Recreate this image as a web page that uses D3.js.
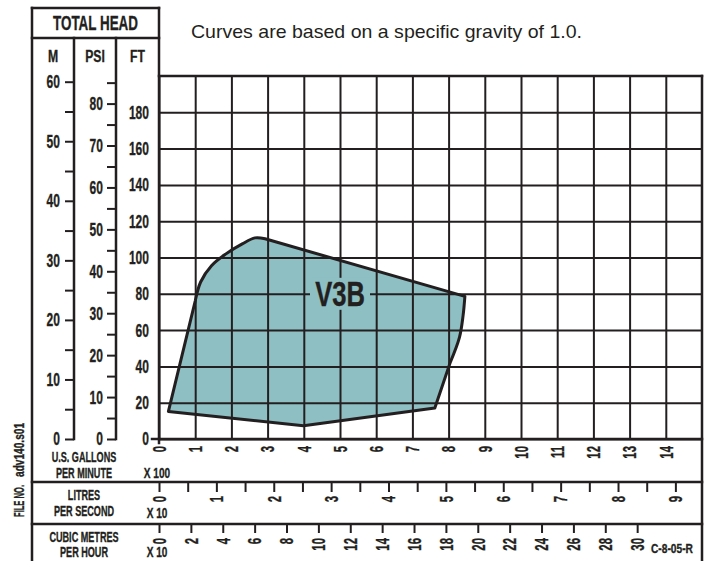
<!DOCTYPE html>
<html><head><meta charset="utf-8">
<script src="https://cdn.jsdelivr.net/npm/d3@7"></script>
<style>body{margin:0;background:#fff} svg{display:block}</style>
</head><body>
<svg id="chart" width="706" height="561"></svg>
<script>
// ---------- data ----------
const gpmTicks = [0,1,2,3,4,5,6,7,8,9,10,11,12,13,14];          // x100 US gpm
const ftTicks  = [0,20,40,60,80,100,120,140,160,180];
const mTicks   = [0,5,10,15,20,25,30,35,40,45,50,55,60];
const psiTicks = [0,5,10,15,20,25,30,35,40,45,50,55,60,65,70,75,80,85];
const lpsTicks = [0,0.5,1,1.5,2,2.5,3,3.5,4,4.5,5,5.5,6,6.5,7,7.5,8,8.5,9]; // x10 L/s
const cmhTicks = [0,2,4,6,8,10,12,14,16,18,20,22,24,26,28,30];  // x10 m3/h
const curveName = "V3B";
// outline of the V3B operating region, in pieces (gpm x100, ft)
const edgeLeftGpm  = [0.26, 1.00];             const edgeLeftFt  = [15.2, 76.0];
const arcGpm       = [1.00, 1.15, 1.45, 1.85, 2.30, 2.65, 2.93];
const arcFt        = [76.0, 86.5, 95.5, 102.0, 107.5, 110.8, 110.3];
const edgeTopGpm   = [2.93, 8.45];             const edgeTopFt   = [110.3, 78.6];
const arcRightGpm  = [8.45, 8.40, 8.30, 8.04];
const arcRightFt   = [78.6, 68.0, 56.0, 41.9];
const edgeBotGpm   = [8.04, 7.62, 3.99, 0.26]; const edgeBotFt   = [41.9, 17.1, 7.3, 15.2];
const labelAt = [5.0, 80];

// ---------- layout ----------
const INK = "#231f20", FILL = "#8ebfc3";
const FONT = "'Liberation Sans',Arial,sans-serif";
const SX = 0.65;
const L = 32, R = 702, TOP = 8, PT = 76, PB = 439, PL = 159, S1 = 482, S2 = 524, BOT = 561;
const C1 = 74, C2 = 116;

const svg = d3.select("#chart");
const x = d3.scaleLinear().domain([0,15]).range([PL,R]);
const y = d3.scaleLinear().domain([0,200]).range([PB,PT]);
const yM = d3.scaleLinear().domain([0,200/3.281]).range([PB,PT]);
const yPsi = d3.scaleLinear().domain([0,200/2.31]).range([PB,PT]);
const xLps = d3.scaleLinear().domain([0,1500/15.85/10]).range([PL,R]);
const xCmh = d3.scaleLinear().domain([0,1500/4.403/10]).range([PL,R]);

function label(parent, px, py, str, o={}) {
  const t = parent.append("text").text(str)
    .attr("font-family", FONT).attr("font-size", o.size||14)
    .attr("font-weight", o.weight||"bold")
    .attr("text-anchor", o.anchor||"middle").attr("fill", INK);
  if ((o.weight||"bold") === "bold") t.attr("stroke", INK).attr("stroke-width", 0.35);
  const rot = o.rotate ? ` rotate(${o.rotate})` : "";
  t.attr("transform", `translate(${px},${py})${rot} scale(${o.sx||SX},1)`);
  if (o.dy) t.attr("dy", o.dy);
  if (o.len) t.attr("textLength", o.len).attr("lengthAdjust","spacingAndGlyphs");
  return t;
}
function line(x1,y1,x2,y2,w) {
  svg.append("line").attr("x1",x1).attr("y1",y1).attr("x2",x2).attr("y2",y2)
    .attr("stroke",INK).attr("stroke-width",w||2.5).attr("stroke-linecap","square");
}
function baseText(g, size) {
  return g.selectAll("text").attr("font-family",FONT).attr("font-size",size)
    .attr("font-weight","bold").attr("fill",INK).attr("stroke",INK).attr("stroke-width",0.35);
}
function styleAxisText(g, size, sx) {
  baseText(g, size)
    .each(function(){ const t=d3.select(this); const x0=+t.attr("x");
      t.attr("x",0).attr("transform",`translate(${x0},0) scale(${sx},1)`); });
}
function rotateXText(g, off, size, sx) {
  baseText(g, size)
    .attr("y",null).attr("dy","0.36em").attr("text-anchor","end")
    .attr("transform",`translate(0,${off}) rotate(-90) scale(${sx},1)`);
}

// ---------- outline path ----------
const P = (gs, fs) => gs.map((g,i)=>[x(g), y(fs[i])]);
const lin = d3.line();
const smooth = d3.line().curve(d3.curveCatmullRom.alpha(0.5));
const cont = s => "L" + s.slice(1);
const outline =
  lin(P(edgeLeftGpm, edgeLeftFt)) +
  cont(smooth(P(arcGpm, arcFt))) +
  cont(lin(P(edgeTopGpm, edgeTopFt))) +
  cont(smooth(P(arcRightGpm, arcRightFt))) +
  cont(lin(P(edgeBotGpm, edgeBotFt))) + "Z";
svg.append("path").attr("d", outline).attr("fill", FILL).attr("stroke","none");

// ---------- grid (FT axis + gpm axis) ----------
const gy = svg.append("g").attr("transform",`translate(${PL},0)`)
  .call(d3.axisLeft(y).tickValues(ftTicks).tickSizeInner(-(R-PL)).tickSizeOuter(0).tickPadding(10).tickFormat(d=>d));
gy.select(".domain").remove();
gy.selectAll("line").attr("stroke",INK).attr("stroke-width",2);
styleAxisText(gy, 18.5, SX);

const gx = svg.append("g").attr("transform",`translate(0,${PB})`)
  .call(d3.axisBottom(x).tickValues(gpmTicks).tickSizeInner(-(PB-PT)).tickSizeOuter(0).tickFormat(d=>d));
gx.select(".domain").remove();
gx.selectAll("line").attr("stroke",INK).attr("stroke-width",2);
rotateXText(gx, 7, 17.5, SX);

// ---------- polygon outline & label ----------
svg.append("path").attr("d", outline).attr("fill","none")
  .attr("stroke",INK).attr("stroke-width",3).attr("stroke-linejoin","round");
svg.append("rect").attr("x", x(labelAt[0])-30).attr("y", y(labelAt[1])-16)
  .attr("width",60).attr("height",32).attr("fill",FILL);
label(svg, x(labelAt[0]), y(labelAt[1])+12.5, curveName, {size:35, sx:0.73});

// ---------- frame ----------
line(L,TOP,L,BOT);            // outer left
line(L,TOP,PL,TOP);           // header top
line(L,38,PL,38);             // header divider
line(C1,38,C1,PB);            // M column
line(C2,38,C2,PB);            // PSI column
line(PL,TOP,PL,443);          // FT column / plot left
line(PL,PT,R,PT);             // plot top
line(PL,PB,R,PB);             // plot bottom
line(R,PT,R,BOT);             // right
line(L,S1,R,S1);              // section 1
line(L,S2,R,S2);              // section 2
line(152,PB,PL,PB);           // ft 0 tick

// ---------- M & PSI axes ----------
const gm = svg.append("g").attr("transform",`translate(${C1},0)`)
  .call(d3.axisLeft(yM).tickValues(mTicks).tickSize(9).tickPadding(5).tickFormat(d=>d%10===0?d:""));
gm.select(".domain").remove();
gm.selectAll("line").attr("stroke",INK).attr("stroke-width",2);
styleAxisText(gm, 18.5, SX);

const gp = svg.append("g").attr("transform",`translate(${C2},0)`)
  .call(d3.axisLeft(yPsi).tickValues(psiTicks).tickSize(9).tickPadding(4).tickFormat(d=>d%10===0?d:""));
gp.select(".domain").remove();
gp.selectAll("line").attr("stroke",INK).attr("stroke-width",2);
styleAxisText(gp, 18.5, SX);

// ---------- L/s and m3/h axes ----------
const gl = svg.append("g").attr("transform",`translate(0,${S1})`)
  .call(d3.axisBottom(xLps).tickValues(lpsTicks).tickSize(10).tickFormat(d=>Number.isInteger(d)?d:""));
gl.select(".domain").remove();
gl.selectAll("line").attr("stroke",INK).attr("stroke-width",2);
rotateXText(gl, 14, 17.5, SX);

const gc = svg.append("g").attr("transform",`translate(0,${S2})`)
  .call(d3.axisBottom(xCmh).tickValues(cmhTicks).tickSize(9).tickFormat(d=>d));
gc.select(".domain").remove();
gc.selectAll("line").attr("stroke",INK).attr("stroke-width",2);
rotateXText(gc, 14, 17.5, SX);

// ---------- texts ----------
label(svg, 95.5, 30, "TOTAL HEAD", {size:20, len:85, sx:1});
label(svg, 53, 62, "M", {size:16, sx:0.76});
label(svg, 95, 62, "PSI", {size:16, sx:0.76});
label(svg, 137.5, 62, "FT", {size:16, sx:0.76});
label(svg, 191, 38, "Curves are based on a specific gravity of 1.0.", {size:19, weight:"normal", anchor:"start", len:391, sx:1});

label(svg, 84, 462, "U.S. GALLONS", {size:14});
label(svg, 84, 478, "PER MINUTE", {size:14});
label(svg, 157, 478, "X 100", {size:14, sx:0.72});
label(svg, 84, 500, "LITRES", {size:14});
label(svg, 84, 516, "PER SECOND", {size:14});
label(svg, 157, 518, "X 10", {size:14, sx:0.72});
label(svg, 84, 542, "CUBIC METRES", {size:14});
label(svg, 84, 557, "PER HOUR", {size:14});
label(svg, 157, 557, "X 10", {size:14, sx:0.72});
label(svg, 672, 553, "C-8-05-R", {size:13, len:42, sx:1});
label(svg, 19, 450, "adv140.s01", {size:14, rotate:-90, dy:"0.35em", len:54, sx:1});
label(svg, 19, 501, "FILE NO.", {size:14, rotate:-90, dy:"0.35em", len:32, sx:1});
</script>
</body></html>
